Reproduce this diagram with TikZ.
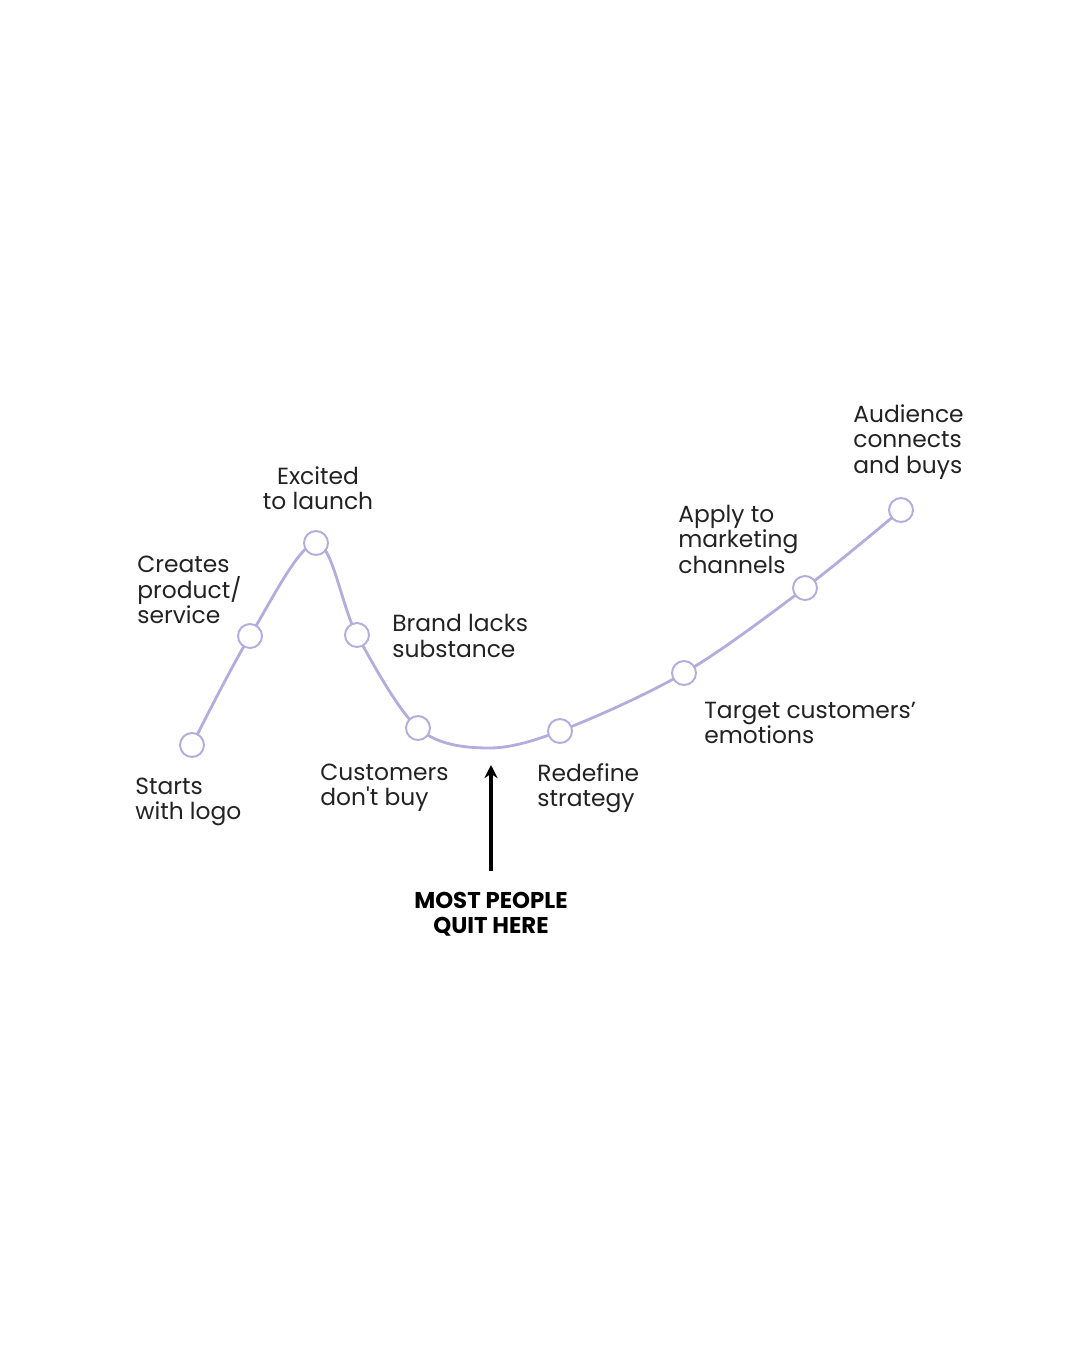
\documentclass[tikz,border=0pt]{standalone}
\usepackage{fontspec}
\setmainfont{Poppins}
\usepackage{tikz}
\usetikzlibrary{arrows.meta, backgrounds}
\definecolor{lavender}{HTML}{B3ACDD}
\definecolor{inkgray}{HTML}{222222}
\tikzset{
  stage/.style={circle, draw=lavender, line width=1.1pt, fill=white, minimum size=0.48cm, inner sep=0pt},
  note/.style={inner sep=0pt, text=inkgray, font=\fontsize{13.3}{14.5}\selectfont},
  path line/.style={draw=lavender, line width=1.6pt},
}
\begin{document}
\begin{tikzpicture}[x=0.02cm, y=-0.02cm]
				\useasboundingbox (0,0) rectangle (1080,1350);
				% Stages on the curve
				\node[stage] (logo) at (192,745) {};
				\node[stage] (product) at (250,636) {};
				\node[stage] (launch) at (316,543) {};
				\node[stage] (lacks) at (357,635) {};
				\node[stage] (nobuy) at (418,728) {};
				\coordinate (dip) at (486,748);
				\node[stage] (redefine) at (560,731) {};
				\node[stage] (emotions) at (684,673) {};
				\node[stage] (channels) at (805,588) {};
				\node[stage] (buys) at (901,510) {};
				
				% Curve behind the stages
				\begin{scope}[on background layer]
					\draw[path line] plot[smooth, tension=0.55] coordinates {(logo) (product) (launch) (lacks) (nobuy) (dip) (redefine) (emotions) (channels) (buys)};
				\end{scope}
				
				% Labels
				\node[note, anchor=west, align=left] (tlogo) at (135,802) {Starts\\with logo};
				\node[note, anchor=west, align=left] (tproduct) at (137,590) {Creates\\product/\\service};
				\node[note, align=center] (tlaunch) at (318,488) {Excited\\to launch};
				\node[note, anchor=west, align=left] (tlacks) at (392,636) {Brand lacks\\substance};
				\node[note, anchor=west, align=left] (tnobuy) at (320,788) {Customers\\don\textquotesingle t buy};
				\node[note, anchor=west, align=left] (tredefine) at (537,788) {Redefine\\strategy};
				\node[note, anchor=west, align=left] (temotions) at (704,723) {Target customers’\\emotions};
				\node[note, anchor=west, align=left] (tchannels) at (678,539) {Apply to\\marketing\\channels};
				\node[note, anchor=west, align=left] (tbuys) at (853,442) {Audience\\connects\\and buys};
				
				% Where people give up
				\node[note, align=center, font=\fontsize{13}{14.5}\selectfont\bfseries, text=black] (quit) at (491,914) {MOST PEOPLE\\QUIT HERE};
				\coordinate (quitbase) at (491,871);
				\coordinate (quittop) at (491,765);
				\draw[-{Stealth[length=2.6mm, width=2.6mm]}, line width=2.2pt] (quitbase) -- (quittop);
\end{tikzpicture}
\end{document}
